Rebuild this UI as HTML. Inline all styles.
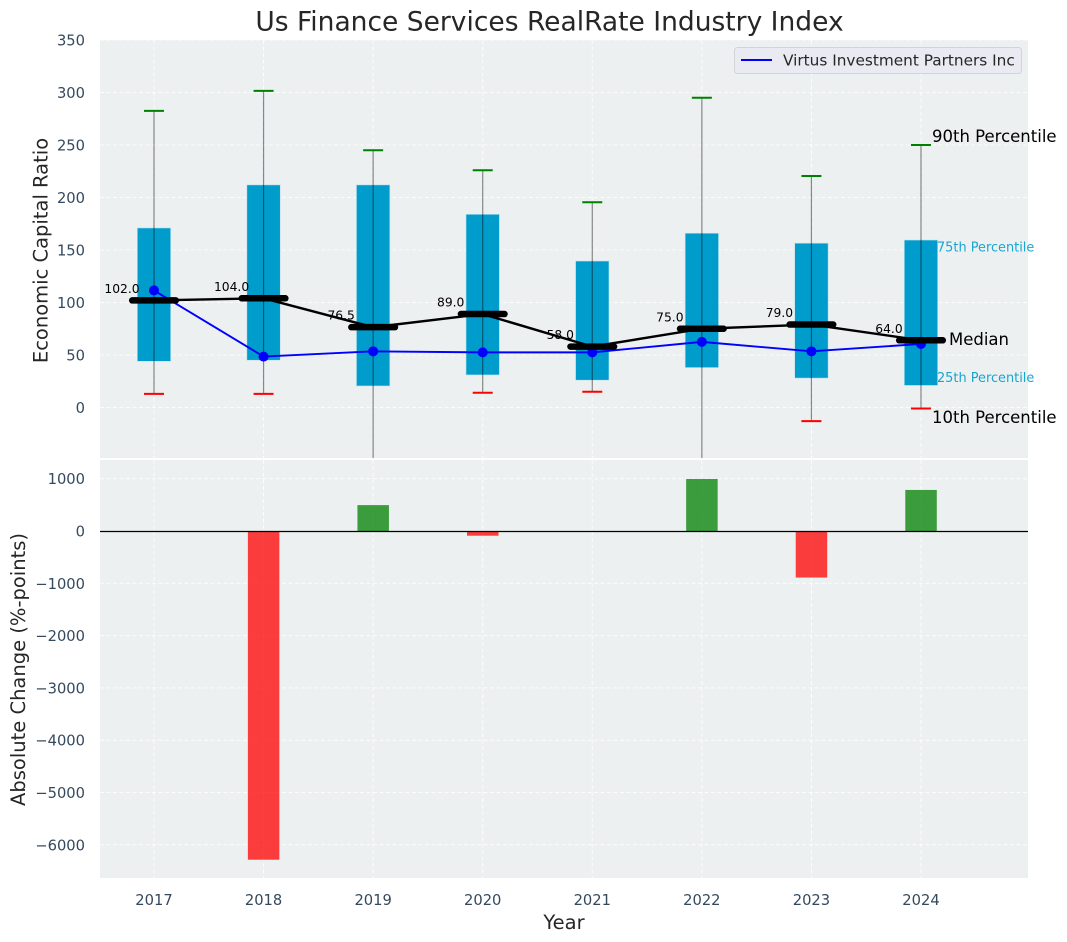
<!DOCTYPE html>
<html lang="en">
<head>
<meta charset="utf-8">
<title>Us Finance Services RealRate Industry Index</title>
<style>
html,body{margin:0;padding:0;background:#fff;}
#chart{display:block;position:absolute;left:0;top:0;font-family:"DejaVu Sans","Liberation Sans",sans-serif;}
</style>
</head>
<body>
<svg id="chart" xmlns="http://www.w3.org/2000/svg" width="1067" height="942" viewBox="0 0 1067 942"></svg>
<script>
const years = [2017, 2018, 2019, 2020, 2021, 2022, 2023, 2024];
const p90 = [282.5, 301.5, 245, 226, 195.5, 295, 220.5, 250];
const p75 = [171, 212, 212, 184, 139.5, 166, 156.5, 159.5];
const medians = [102, 104, 76.5, 89, 58, 75, 79, 64];
const p25 = [44, 45, 20.5, 31, 26, 38, 28, 21];
const p10 = [13, 13, -70, 14, 15, -75, -13, -1];
const company = [111.5, 48.5, 53.5, 52.5, 52.5, 62.5, 53.5, 60.5];
const changes = [null, -6285, 495, -90, null, 995, -890, 785];
const topTicks = [0, 50, 100, 150, 200, 250, 300, 350];
const bottomTicks = [1000, 0, -1000, -2000, -3000, -4000, -5000, -6000];

const NS = 'http://www.w3.org/2000/svg';
const svg = document.getElementById('chart');
const PL = 100, PR = 1028, T1 = 40, B1 = 458, T2 = 460, B2 = 878;

function xAxis(year) { return 154 + (year - 2017) * 109.57; }
function yTop(v) { return 407.5 - v * 1.05; }
function yBottom(v) { return 531 - v * 0.0523; }

function make(tag, props, parent, text) {
  const el = document.createElementNS(NS, tag);
  for (const k in props) el.setAttribute(k, props[k]);
  if (text !== undefined) el.textContent = text;
  (parent || svg).appendChild(el);
  return el;
}
function label(el, name, interactive) {
  
  
  return el;
}

const defs = make('defs', {});
const cp1 = make('clipPath', { id: 'clip-top' }, defs);
make('rect', { x: PL, y: T1, width: PR - PL, height: B1 - T1 }, cp1);
const cp2 = make('clipPath', { id: 'clip-bottom' }, defs);
make('rect', { x: PL, y: T2, width: PR - PL, height: B2 - T2 }, cp2);

/* title */
label(make('text', { x: 549.5, y: 30.5, 'text-anchor': 'middle', 'font-size': 26.5, fill: '#262626' }, svg, 'Us Finance Services RealRate Industry Index'), 'chart-title', false);

/* panels */
const topPanel = make('g', {});
label(topPanel, 'top-panel', false);
const bottomPanel = make('g', {});
label(bottomPanel, 'bottom-panel', false);
label(make('rect', { x: PL, y: T1, width: PR - PL, height: B1 - T1, fill: '#ecf0f1' }, topPanel), 'top-plot-background', false);
label(make('rect', { x: PL, y: T2, width: PR - PL, height: B2 - T2, fill: '#ecf0f1' }, bottomPanel), 'bottom-plot-background', false);

const GRID = { stroke: '#ffffff', 'stroke-width': 1, 'stroke-dasharray': '4 2.5', opacity: 0.85 };

/* grid + tick labels : top */
topTicks.forEach(function (t) {
  const y = yTop(t);
  const g = make('line', Object.assign({ x1: PL, x2: PR, y1: y, y2: y }, GRID), topPanel);
  label(g, 'top-grid-line-y', false);
  const tx = make('text', { x: 85, y: y + 5.5, 'text-anchor': 'end', 'font-size': 14.7, fill: '#34495e' }, topPanel, String(t));
  label(tx, 'top-y-tick-label', false);
});
/* grid + tick labels : bottom */
bottomTicks.forEach(function (t) {
  const y = yBottom(t);
  if (t !== 0) {
    const g = make('line', Object.assign({ x1: PL, x2: PR, y1: y, y2: y }, GRID), bottomPanel);
    label(g, 'bottom-grid-line-y', false);
  }
  const str = t < 0 ? '\u2212' + Math.abs(t) : String(t);
  const tx = make('text', { x: 85, y: y + 5.5, 'text-anchor': 'end', 'font-size': 14.7, fill: '#34495e' }, bottomPanel, str);
  label(tx, 'bottom-y-tick-label', false);
});
years.forEach(function (yr) {
  const x = xAxis(yr);
  const g1 = make('line', Object.assign({ x1: x, x2: x, y1: T1, y2: B1 }, GRID), topPanel);
  label(g1, 'top-grid-line-x', false);
  const g2 = make('line', Object.assign({ x1: x, x2: x, y1: T2, y2: B2 }, GRID), bottomPanel);
  label(g2, 'bottom-grid-line-x', false);
  const tx = make('text', { x: x, y: 905, 'text-anchor': 'middle', 'font-size': 14.7, fill: '#34495e' }, bottomPanel, String(yr));
  label(tx, 'x-tick-label', false);
});

/* marks : top */
const marks = make('g', { 'clip-path': 'url(#clip-top)' }, topPanel);
label(marks, 'top-marks', false);

years.forEach(function (yr, i) {
  const x = xAxis(yr);
  const b = make('rect', { x: x - 16.7, y: yTop(p75[i]), width: 33.4, height: yTop(p25[i]) - yTop(p75[i]), fill: '#009ccc', stroke: '#bfe3ef', 'stroke-width': 0.6 }, marks);
  label(b, 'iqr-box-' + yr, false);
});

/* value labels sit under the lines */
years.forEach(function (yr, i) {
  const t = make('text', { x: xAxis(yr) - 32, y: yTop(medians[i]) - 7.5, 'text-anchor': 'middle', 'font-size': 12.3, fill: '#000000' }, topPanel, medians[i].toFixed(1));
  label(t, 'median-value-' + yr, false);
});

years.forEach(function (yr, i) {
  const x = xAxis(yr);
  const w = make('line', { x1: x, x2: x, y1: yTop(p90[i]), y2: yTop(p10[i]), stroke: '#000000', 'stroke-opacity': 0.45, 'stroke-width': 1.2 }, marks);
  label(w, 'whisker-' + yr, false);
  const c1 = make('line', { x1: x - 10, x2: x + 10, y1: yTop(p90[i]), y2: yTop(p90[i]), stroke: '#008000', 'stroke-width': 2 }, marks);
  label(c1, 'p90-cap-' + yr, false);
  const c2 = make('line', { x1: x - 10, x2: x + 10, y1: yTop(p10[i]), y2: yTop(p10[i]), stroke: '#ff0000', 'stroke-width': 2 }, marks);
  label(c2, 'p10-cap-' + yr, false);
});

const medPts = years.map(function (yr, i) { return xAxis(yr) + ',' + yTop(medians[i]); }).join(' ');
const medLine = make('polyline', { points: medPts, fill: 'none', stroke: '#000000', 'stroke-width': 2.4, 'stroke-linejoin': 'round' }, marks);
label(medLine, 'median-line', false);

const coPts = years.map(function (yr, i) { return xAxis(yr) + ',' + yTop(company[i]); }).join(' ');
const coLine = make('polyline', { points: coPts, fill: 'none', stroke: '#0000ff', 'stroke-width': 1.9, 'stroke-linejoin': 'round' }, marks);
label(coLine, 'company-line', false);
years.forEach(function (yr, i) {
  const c = make('circle', { cx: xAxis(yr), cy: yTop(company[i]), r: 5, fill: '#0000ff' }, marks);
  label(c, 'company-point-' + yr, false);
});

years.forEach(function (yr, i) {
  const x = xAxis(yr);
  const m = make('line', { x1: x - 21.8, x2: x + 21.8, y1: yTop(medians[i]), y2: yTop(medians[i]), stroke: '#000000', 'stroke-width': 6.5, 'stroke-linecap': 'round' }, topPanel);
  label(m, 'median-marker-' + yr, false);
});

/* marks : bottom */
const barsG = make('g', { 'clip-path': 'url(#clip-bottom)' }, bottomPanel);
label(barsG, 'bottom-marks', false);
years.forEach(function (yr, i) {
  const v = changes[i];
  if (v === null) return;
  const y0 = yBottom(0), y1 = yBottom(v);
  const r = make('rect', { x: xAxis(yr) - 15.7, y: Math.min(y0, y1), width: 31.5, height: Math.abs(y1 - y0), fill: v >= 0 ? '#008000' : '#ff0000', 'fill-opacity': 0.75 }, barsG);
  label(r, 'change-bar-' + yr, false);
});
label(make('line', { x1: PL, x2: PR, y1: yBottom(0) + 0.5, y2: yBottom(0) + 0.5, stroke: '#000000', 'stroke-width': 1.3 }, bottomPanel), 'zero-line', false);

/* percentile annotations (anchored to last year) */
const lastX = xAxis(years[years.length - 1]);
label(make('text', { x: lastX + 11, y: 142, 'font-size': 16.5, fill: '#000000' }, svg, '90th Percentile'), 'annotation-90th-percentile', false);
label(make('text', { x: lastX + 16, y: 251.5, 'font-size': 12.9, fill: '#009ccc', 'fill-opacity': 0.9 }, svg, '75th Percentile'), 'annotation-75th-percentile', false);
label(make('text', { x: lastX + 28, y: 345, 'font-size': 16.5, fill: '#000000' }, svg, 'Median'), 'annotation-median', false);
label(make('text', { x: lastX + 16, y: 382, 'font-size': 12.9, fill: '#009ccc', 'fill-opacity': 0.9 }, svg, '25th Percentile'), 'annotation-25th-percentile', false);
label(make('text', { x: lastX + 11, y: 423, 'font-size': 16.5, fill: '#000000' }, svg, '10th Percentile'), 'annotation-10th-percentile', false);

/* axis titles */
label(make('text', { x: 564, y: 929, 'text-anchor': 'middle', 'font-size': 19.5, fill: '#262626' }, svg, 'Year'), 'x-axis-title', false);
label(make('text', { transform: 'translate(47.5,250.5) rotate(-90)', 'text-anchor': 'middle', 'font-size': 19.5, fill: '#262626' }, svg, 'Economic Capital Ratio'), 'top-y-axis-title', false);
label(make('text', { transform: 'translate(25,669.5) rotate(-90)', 'text-anchor': 'middle', 'font-size': 19.5, fill: '#262626' }, svg, 'Absolute Change (%-points)'), 'bottom-y-axis-title', false);

/* legend */
const legend = make('g', {});
label(legend, 'legend', true);
label(make('rect', { x: 734.5, y: 47.5, width: 287, height: 26, rx: 3, fill: '#eaeaf2', 'fill-opacity': 0.9, stroke: '#d4d4d8', 'stroke-width': 1 }, legend), 'legend-box', false);
label(make('line', { x1: 741, x2: 772, y1: 60, y2: 60, stroke: '#0000ff', 'stroke-width': 2 }, legend), 'legend-line', false);
label(make('text', { x: 783, y: 65.5, 'font-size': 15.3, fill: '#262626' }, legend, 'Virtus Investment Partners Inc'), 'legend-entry', false);
</script>
</body>
</html>
